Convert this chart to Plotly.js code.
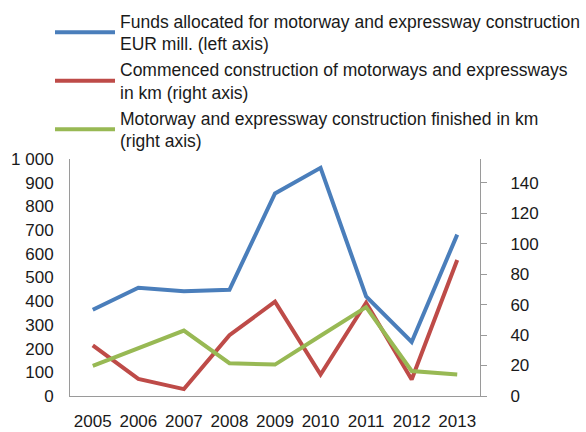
<!DOCTYPE html>
<html>
<head>
<meta charset="utf-8">
<script src="https://cdn.plot.ly/plotly-3.0.1.min.js"></script>
<style>html,body{margin:0;padding:0;background:#fff;}#chart{width:586px;height:432px;}</style>
</head>
<body>
<div id="chart"></div>
<script>
const years = ['2005','2006','2007','2008','2009','2010','2011','2012','2013'];
const funds = [364, 457, 442, 448, 855, 963, 420, 228, 681];
const commenced = [33.2, 11.2, 4.5, 39.9, 61.9, 14.1, 61.2, 10.8, 89.3];
const finished = [19.7, 31.4, 42.9, 21.5, 20.6, 39.5, 58.3, 16.4, 14.1];
const leftTicks = [0,100,200,300,400,500,600,700,800,900,1000];
const leftTickText = ['0','100','200','300','400','500','600','700','800','900','1 000'];
const rightTicks = [0,20,40,60,80,100,120,140];
const names = [
  'Funds allocated for motorway and expressway construction<br>EUR mill. (left axis)',
  'Commenced construction of motorways and expressways<br>in km (right axis)',
  'Motorway and expressway construction finished in km<br>(right axis)'
];

const FONT = '"Liberation Sans", Arial, sans-serif';
const traces = [
  {x: years, y: funds, name: names[0], type: 'scatter', mode: 'lines', yaxis: 'y',
   line: {color: '#4a7ebb', width: 4}},
  {x: years, y: commenced, name: names[1], type: 'scatter', mode: 'lines', yaxis: 'y2',
   line: {color: '#be4b48', width: 4}},
  {x: years, y: finished, name: names[2], type: 'scatter', mode: 'lines', yaxis: 'y2',
   line: {color: '#98b954', width: 4}}
];

const layout = {
  width: 586, height: 432,
  margin: {l: 70, r: 106, t: 158, b: 36},
  paper_bgcolor: '#ffffff', plot_bgcolor: '#ffffff',
  font: {family: FONT, size: 17, color: '#1a1a1a'},
  showlegend: true,
  legend: {x: 0.11, xref: 'paper', y: 0.993, yref: 'container', yanchor: 'top', xanchor: 'left',
    font: {family: FONT, size: 17.5, color: '#1a1a1a'}, itemwidth: 60, tracegroupgap: 0,
    bgcolor: 'rgba(0,0,0,0)'},
  xaxis: {type: 'category', range: [-0.5, 8.5], showgrid: false, zeroline: false,
    showline: true, linecolor: '#9a9a9a', linewidth: 1, ticks: '', tickangle: 0,
    tickfont: {family: FONT, size: 17, color: '#1a1a1a'}, ticklabelstandoff: 10},
  yaxis: {range: [0, 1000], tickvals: leftTicks, ticktext: leftTickText, showgrid: false,
    zeroline: false, showline: true, linecolor: '#9a9a9a', linewidth: 1, ticks: '',
    tickfont: {family: FONT, size: 17, color: '#1a1a1a'}, ticklabelstandoff: 12},
  yaxis2: {overlaying: 'y', side: 'right', anchor: 'x', range: [0, 155.5], domain: [0, 0.9706],
    tickvals: rightTicks, showgrid: false, zeroline: false, showline: true,
    linecolor: '#9a9a9a', linewidth: 1, ticks: 'outside', ticklen: 6, tickcolor: '#9a9a9a',
    tickfont: {family: FONT, size: 17, color: '#1a1a1a'}, ticklabelstandoff: 20}
};

Plotly.newPlot('chart', traces, layout, {displayModeBar: false, staticPlot: true});
</script>
</body>
</html>
